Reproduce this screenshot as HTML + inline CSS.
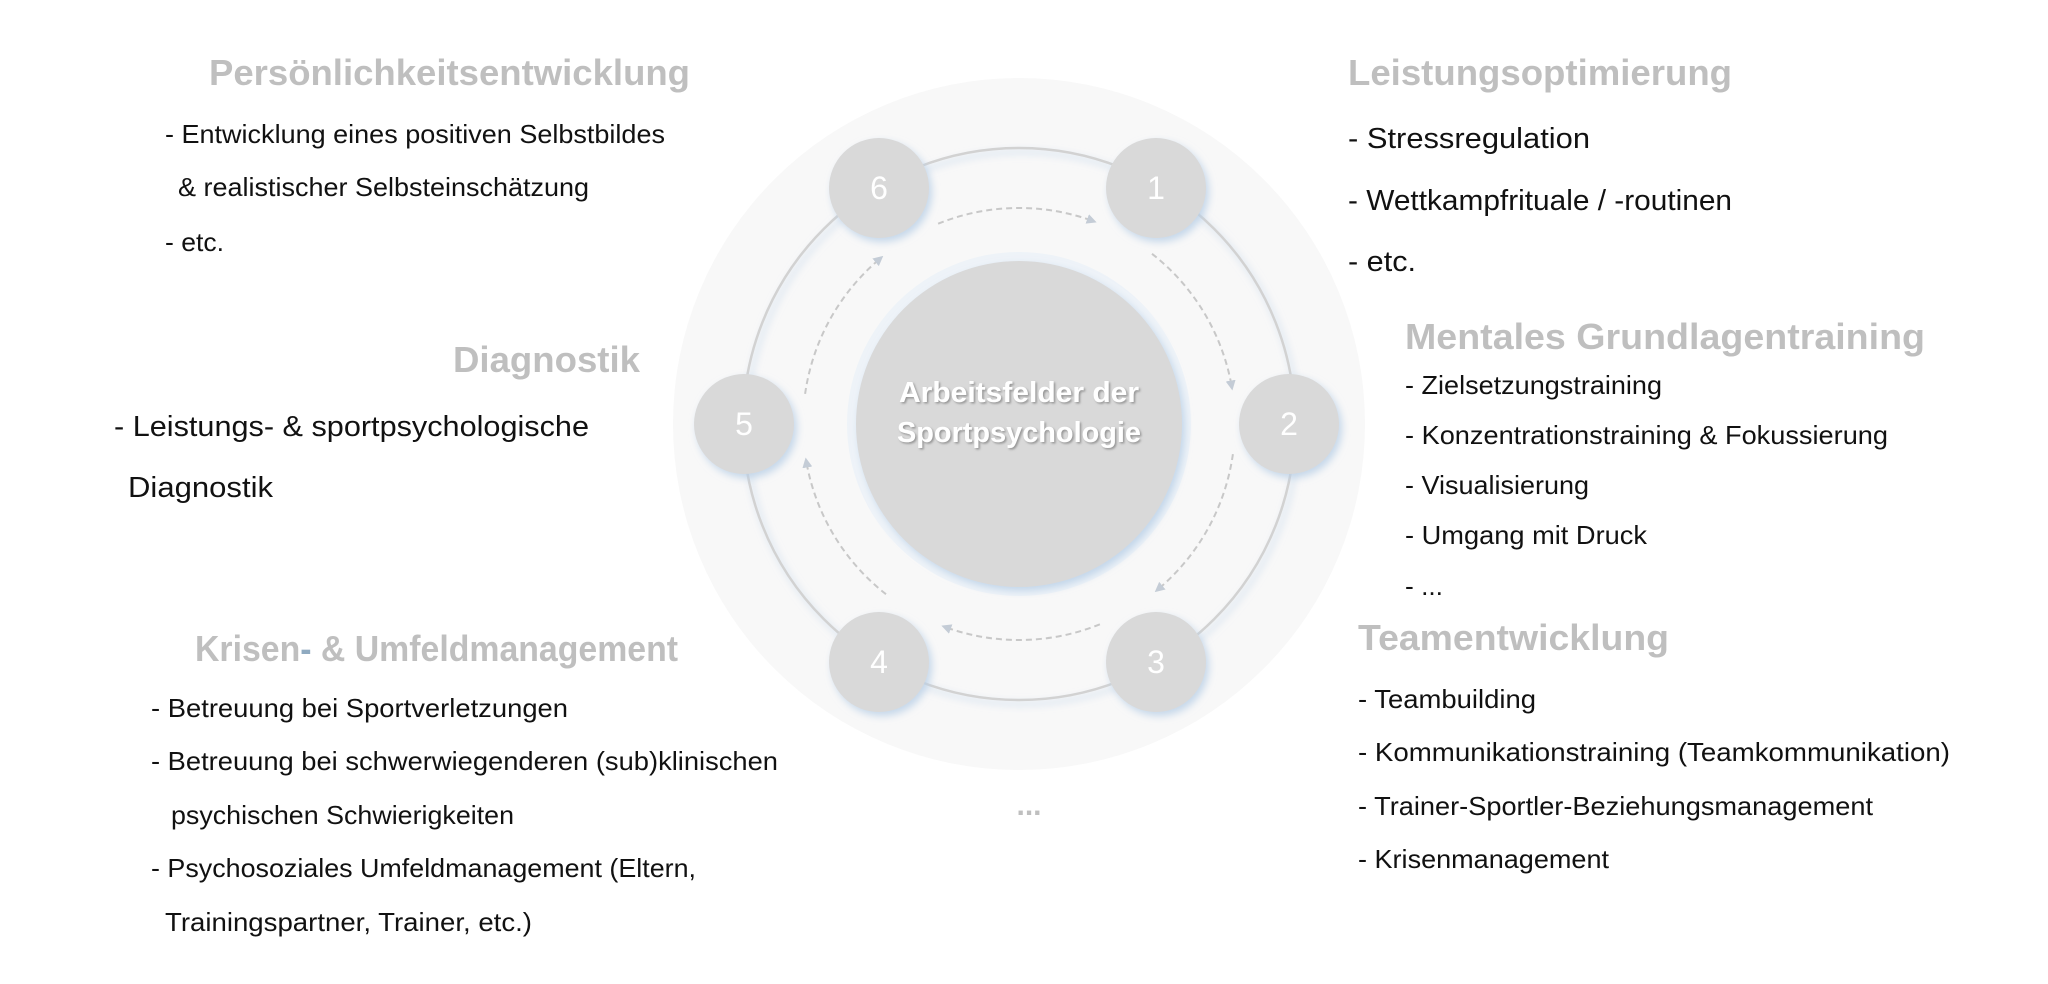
<!DOCTYPE html>
<html><head><meta charset="utf-8"><style>
html,body{margin:0;padding:0;background:#fff;}
svg{display:block;}
text{font-family:"Liberation Sans",sans-serif;}
.h{font-weight:bold;fill:#bfbfbf;font-size:36px;}
.i{fill:#111;font-size:26px;}
.b{fill:#111;font-size:29px;}
</style></head><body>
<svg width="2048" height="984" viewBox="0 0 2048 984" xmlns="http://www.w3.org/2000/svg">
<defs>
<filter id="glow" x="-30%" y="-30%" width="160%" height="160%">
<feDropShadow dx="3" dy="4" stdDeviation="4" flood-color="#b8cfe6" flood-opacity="0.8"/>
</filter>
<filter id="ts" x="-10%" y="-30%" width="120%" height="160%">
<feDropShadow dx="1.5" dy="1.5" stdDeviation="1" flood-color="#777" flood-opacity="0.7"/>
</filter>
<marker id="ar" markerWidth="10" markerHeight="10" refX="6" refY="5" orient="auto" markerUnits="userSpaceOnUse">
<path d="M0,0 L10,5 L0,10 z" fill="#c4ccd6"/>
</marker>
</defs>
<circle cx="1019" cy="424" r="346" fill="#f8f8f8"/>
<circle cx="1019" cy="424" r="276" fill="none" stroke="#d2d2d2" stroke-width="2.5" filter="url(#glow)"/>
<circle cx="1019" cy="424" r="172" fill="#eef3f8"/>
<circle cx="1019" cy="424" r="163" fill="#d9d9d9" filter="url(#glow)"/>
<text x="1019" y="402" text-anchor="middle" font-weight="bold" font-size="29" fill="#fff" filter="url(#ts)" textLength="240" lengthAdjust="spacingAndGlyphs">Arbeitsfelder der</text>
<text x="1019" y="442" text-anchor="middle" font-weight="bold" font-size="29" fill="#fff" filter="url(#ts)" textLength="244" lengthAdjust="spacingAndGlyphs">Sportpsychologie</text>
<g fill="none" stroke="#c8c8c8" stroke-width="2" stroke-dasharray="6,4" marker-end="url(#ar)">
<path d="M938.1,223.7 A216,216 0 0 1 1092.9,221"/>
<path d="M1152,253.8 A216,216 0 0 1 1231.7,386.5"/>
<path d="M1232.9,454.1 A216,216 0 0 1 1157.8,589.5"/>
<path d="M1099.9,624.3 A216,216 0 0 1 945.1,627"/>
<path d="M886,594.2 A216,216 0 0 1 806.3,461.5"/>
<path d="M805.1,393.9 A216,216 0 0 1 880.2,258.5"/>
</g>
<g filter="url(#glow)" fill="#d9d9d9">
<circle cx="1156" cy="188" r="50"/>
<circle cx="1289" cy="424" r="50"/>
<circle cx="1156" cy="662" r="50"/>
<circle cx="879" cy="662" r="50"/>
<circle cx="744" cy="424" r="50"/>
<circle cx="879" cy="188" r="50"/>
</g>
<g fill="#fff" font-size="32" text-anchor="middle">
<text x="1156" y="199">1</text>
<text x="1289" y="435">2</text>
<text x="1156" y="673">3</text>
<text x="879" y="673">4</text>
<text x="744" y="435">5</text>
<text x="879" y="199">6</text>
</g>
<text x="1029" y="815" text-anchor="middle" font-size="30" font-weight="bold" fill="#bfbfbf">...</text>

<text class="h" x="209" y="85" textLength="481" lengthAdjust="spacingAndGlyphs">Persönlichkeitsentwicklung</text>
<text class="i" x="165" y="143" textLength="500" lengthAdjust="spacingAndGlyphs">- Entwicklung eines positiven Selbstbildes</text>
<text class="i" x="178" y="196" textLength="411" lengthAdjust="spacingAndGlyphs">&amp; realistischer Selbsteinschätzung</text>
<text class="i" x="165" y="251" textLength="59" lengthAdjust="spacingAndGlyphs">- etc.</text>

<text class="h" x="453" y="372" textLength="187" lengthAdjust="spacingAndGlyphs">Diagnostik</text>
<text class="b" x="114" y="436" textLength="475" lengthAdjust="spacingAndGlyphs">- Leistungs- &amp; sportpsychologische</text>
<text class="b" x="128" y="497" textLength="145" lengthAdjust="spacingAndGlyphs">Diagnostik</text>

<text class="h" x="195" y="661" textLength="483" lengthAdjust="spacingAndGlyphs">Krisen<tspan fill="#8faac0">-</tspan> &amp; Umfeldmanagement</text>
<text class="i" x="151" y="717" textLength="417" lengthAdjust="spacingAndGlyphs">- Betreuung bei Sportverletzungen</text>
<text class="i" x="151" y="770" textLength="627" lengthAdjust="spacingAndGlyphs">- Betreuung bei schwerwiegenderen (sub)klinischen</text>
<text class="i" x="171" y="824" textLength="343" lengthAdjust="spacingAndGlyphs">psychischen Schwierigkeiten</text>
<text class="i" x="151" y="877" textLength="545" lengthAdjust="spacingAndGlyphs">- Psychosoziales Umfeldmanagement (Eltern,</text>
<text class="i" x="165" y="931" textLength="367" lengthAdjust="spacingAndGlyphs">Trainingspartner, Trainer, etc.)</text>

<text class="h" x="1348" y="85" textLength="384" lengthAdjust="spacingAndGlyphs">Leistungsoptimierung</text>
<text class="b" x="1348" y="148" textLength="242" lengthAdjust="spacingAndGlyphs">- Stressregulation</text>
<text class="b" x="1348" y="210" textLength="384" lengthAdjust="spacingAndGlyphs">- Wettkampfrituale / -routinen</text>
<text class="b" x="1348" y="271" textLength="68" lengthAdjust="spacingAndGlyphs">- etc.</text>

<text class="h" x="1405" y="349" textLength="520" lengthAdjust="spacingAndGlyphs">Mentales Grundlagentraining</text>
<text class="i" x="1405" y="394" textLength="257" lengthAdjust="spacingAndGlyphs">- Zielsetzungstraining</text>
<text class="i" x="1405" y="444" textLength="483" lengthAdjust="spacingAndGlyphs">- Konzentrationstraining &amp; Fokussierung</text>
<text class="i" x="1405" y="494" textLength="184" lengthAdjust="spacingAndGlyphs">- Visualisierung</text>
<text class="i" x="1405" y="544" textLength="242" lengthAdjust="spacingAndGlyphs">- Umgang mit Druck</text>
<text class="i" x="1405" y="595" textLength="38" lengthAdjust="spacingAndGlyphs">- ...</text>

<text class="h" x="1358" y="650" textLength="311" lengthAdjust="spacingAndGlyphs">Teamentwicklung</text>
<text class="i" x="1358" y="708" textLength="178" lengthAdjust="spacingAndGlyphs">- Teambuilding</text>
<text class="i" x="1358" y="761" textLength="592" lengthAdjust="spacingAndGlyphs">- Kommunikationstraining (Teamkommunikation)</text>
<text class="i" x="1358" y="815" textLength="515" lengthAdjust="spacingAndGlyphs">- Trainer-Sportler-Beziehungsmanagement</text>
<text class="i" x="1358" y="868" textLength="251" lengthAdjust="spacingAndGlyphs">- Krisenmanagement</text>
</svg>
</body></html>
